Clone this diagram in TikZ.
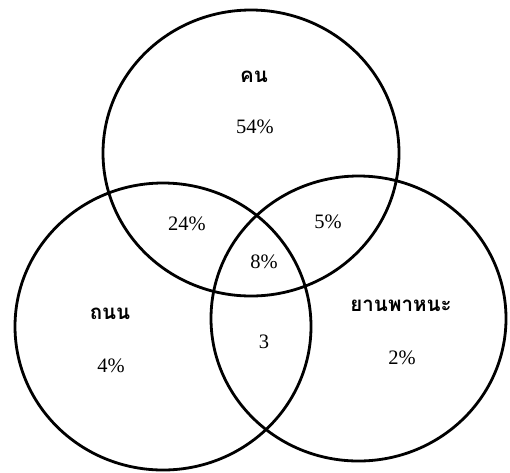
\documentclass[tikz,border=0pt]{standalone}
\usepackage{fontspec}
\usepackage{tikz}
\setmainfont{Liberation Serif}
\newfontfamily\thaifont[Script=Thai]{Loma}

\begin{document}
\begin{tikzpicture}[
      x=1pt, y=-1pt,
      ring/.style={draw, line width=2.8pt},
      lbl/.style={font=\thaifont\bfseries\fontsize{20.5}{24}\selectfont, inner sep=0pt},
      pct/.style={font=\fontsize{20.5}{24}\selectfont, inner sep=0pt}
    ]
      \useasboundingbox (0,0) rectangle (510,472);
      \draw[ring] (251,153) ellipse [x radius=148, y radius=143];
      \draw[ring] (163,326.5) ellipse [x radius=148, y radius=143.5];
      \draw[ring] (358.5,318.5) ellipse [x radius=147.5, y radius=142.5];
      
      \node[lbl] (A) at (254,77) {คน};
      \node[pct] (a) at (255,127) {54\%};
      \node[lbl] (B) at (110,314) {ถนน};
      \node[pct] (b) at (111,366) {4\%};
      \node[lbl] (C) at (401,306) {ยานพาหนะ};
      \node[pct] (c) at (402,358) {2\%};
      
      \node[pct] (AB) at (187,224) {24\%};
      \node[pct] (AC) at (328,222) {5\%};
      \node[pct] (ABC) at (264,262) {8\%};
      \node[pct] (BC) at (264,342) {3};
    \end{tikzpicture}
\end{document}
